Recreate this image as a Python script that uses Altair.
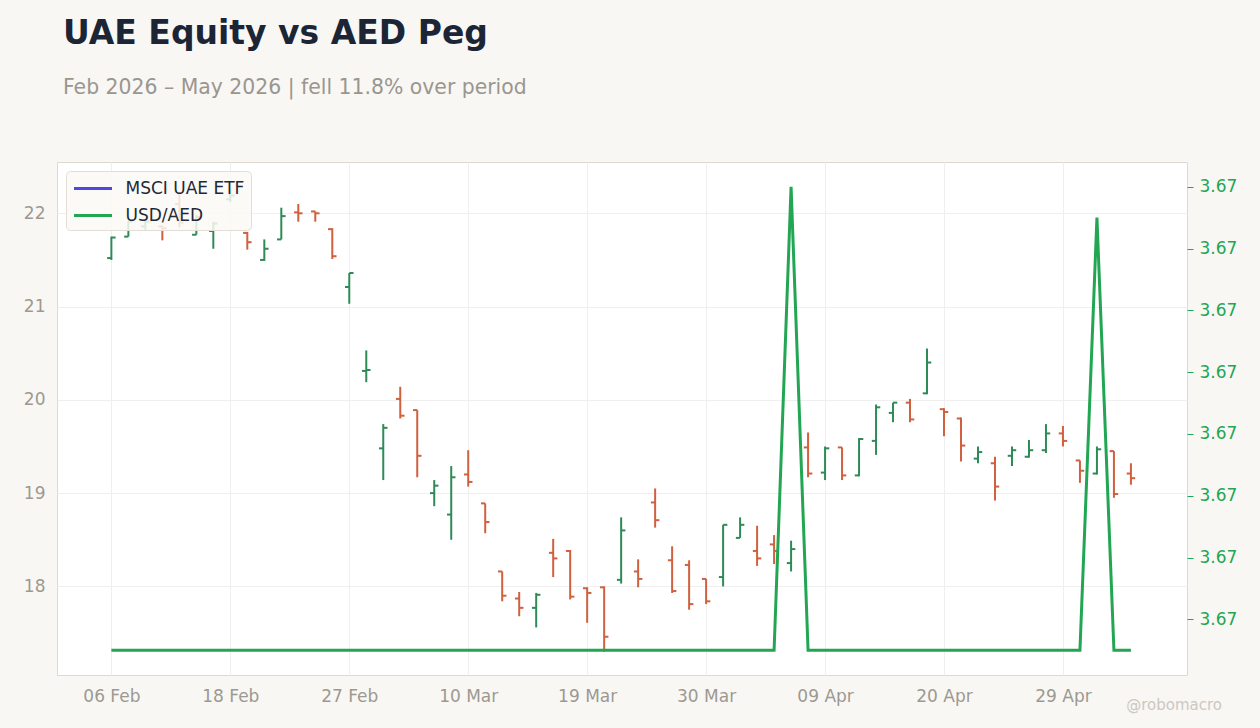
import json
import altair as alt
import pandas as pd

# ---- data ----
opens = [21.52, 21.75, 21.86, 21.86, 22.10, 21.77, 21.81, 22.15, 21.79, 21.50,
         21.72, 22.01, 22.02, 21.83, 21.21, 20.31, 19.48, 20.01, 19.89, 19.00,
         18.77, 19.20, 18.89, 18.16, 17.87, 17.77, 18.36, 18.38, 17.98, 17.99,
         18.07, 18.16, 18.90, 18.28, 18.23, 18.08, 18.10, 18.52, 18.38, 18.45,
         18.25, 19.49, 19.22, 19.49, 19.19, 19.56, 19.86, 19.97, 20.07, 19.90,
         19.80, 19.37, 19.32, 19.40, 19.39, 19.46, 19.64, 19.35, 19.21, 19.45, 19.21]
highs = [21.75, 21.92, 21.92, 21.87, 22.23, 21.98, 21.91, 22.25, 21.80, 21.72,
         22.06, 22.10, 22.02, 21.84, 21.36, 20.53, 19.74, 20.14, 19.89, 19.14,
         19.29, 19.46, 18.89, 18.16, 17.94, 17.93, 18.51, 18.39, 17.99, 18.00,
         18.74, 18.29, 19.05, 18.43, 18.28, 18.08, 18.66, 18.74, 18.65, 18.55,
         18.49, 19.65, 19.50, 19.49, 19.59, 19.95, 19.97, 20.01, 20.55, 19.91,
         19.81, 19.50, 19.39, 19.50, 19.57, 19.74, 19.72, 19.35, 19.50, 19.45, 19.32]
lows = [21.50, 21.75, 21.82, 21.71, 21.85, 21.77, 21.62, 22.12, 21.61, 21.49,
        21.72, 21.91, 21.91, 21.51, 21.03, 20.19, 19.14, 19.80, 19.17, 18.86,
        18.50, 19.07, 18.57, 17.84, 17.68, 17.56, 18.10, 17.86, 17.61, 17.30,
        18.03, 17.99, 18.63, 17.93, 17.75, 17.81, 18.00, 18.52, 18.22, 18.24,
        18.16, 19.17, 19.14, 19.14, 19.18, 19.41, 19.76, 19.76, 20.06, 19.61,
        19.34, 19.32, 18.92, 19.29, 19.38, 19.43, 19.50, 19.11, 19.20, 18.95, 19.09]
closes = [21.74, 21.91, 21.91, 21.84, 21.90, 21.96, 21.89, 22.19, 21.69, 21.62,
          21.97, 22.00, 22.00, 21.54, 21.36, 20.32, 19.70, 19.83, 19.40, 19.08,
          19.17, 19.12, 18.69, 17.90, 17.77, 17.91, 18.30, 17.89, 17.93, 17.46,
          18.60, 18.08, 18.71, 17.95, 17.81, 17.84, 18.66, 18.66, 18.30, 18.38,
          18.40, 19.21, 19.48, 19.19, 19.58, 19.92, 19.97, 19.79, 20.40, 19.87,
          19.51, 19.44, 19.07, 19.46, 19.46, 19.64, 19.56, 19.24, 19.47, 18.99, 19.16]
usd_aed = [3.67251, 3.67251, 3.67251, 3.67251, 3.67251, 3.67251, 3.67251, 3.67251, 3.67251, 3.67251,
           3.67251, 3.67251, 3.67251, 3.67251, 3.67251, 3.67251, 3.67251, 3.67251, 3.67251, 3.67251,
           3.67251, 3.67251, 3.67251, 3.67251, 3.67251, 3.67251, 3.67251, 3.67251, 3.67251, 3.67251,
           3.67251, 3.67251, 3.67251, 3.67251, 3.67251, 3.67251, 3.67251, 3.67251, 3.67251, 3.67251,
           3.67266, 3.67251, 3.67251, 3.67251, 3.67251, 3.67251, 3.67251, 3.67251, 3.67251, 3.67251,
           3.67251, 3.67251, 3.67251, 3.67251, 3.67251, 3.67251, 3.67251, 3.67251, 3.67265, 3.67251,
           3.67251]
x_tick_idx = [0, 7, 14, 21, 28, 35, 42, 49, 56]
x_tick_labels = ["06 Feb", "18 Feb", "27 Feb", "10 Mar", "19 Mar", "30 Mar", "09 Apr", "20 Apr", "29 Apr"]
left_ticks = [18, 19, 20, 21, 22]
right_ticks = [3.67252, 3.67254, 3.67256, 3.67258, 3.67260, 3.67262, 3.67264, 3.67266]
series_names = ["MSCI UAE ETF", "USD/AED"]

# ---- styling ----
FONT = "DejaVu Sans"
UP = "#2e8b57"
DOWN = "#d0603e"
PEG = "#22a653"
ETF_LEG = "#4f46e5"
GRAY = "#9d9991"
AX_FS = 17

n = len(opens)
df = pd.DataFrame({"i": list(range(n)), "open": opens, "high": highs,
                   "low": lows, "close": closes})
peg_df = pd.DataFrame({"i": list(range(n)), "v": usd_aed,
                       "series": ["USD/AED"] * n})

xscale = alt.Scale(domain=[-3.2, 63.3], nice=False, zero=False)
yscale = alt.Scale(domain=[17.05, 22.55], nice=False, zero=False)
label_expr = json.dumps(x_tick_labels) + "[round(datum.value / 7)]"
xaxis = alt.Axis(values=x_tick_idx, labelExpr=label_expr, title=None,
                 ticks=False, domain=False, labelPadding=13, grid=True,
                 gridColor="#efefef", labelColor=GRAY, labelFontSize=AX_FS,
                 labelFont=FONT)
yaxis = alt.Axis(values=left_ticks, format="d", title=None, ticks=False,
                 domain=False, labelPadding=12, grid=True, gridColor="#efefef",
                 labelColor=GRAY, labelFontSize=AX_FS, labelFont=FONT)

col = alt.condition("datum.close >= datum.open", alt.value(UP), alt.value(DOWN))
base = alt.Chart(df)

hl = base.mark_rule(strokeWidth=2).encode(
    x=alt.X("i:Q", scale=xscale, axis=xaxis),
    y=alt.Y("low:Q", scale=yscale, axis=yaxis),
    y2="high:Q",
    color=col,
)
op = base.transform_calculate(xo="datum.i - 0.25").mark_rule(strokeWidth=2).encode(
    x=alt.X("xo:Q", scale=xscale),
    x2="i:Q",
    y=alt.Y("open:Q", scale=yscale),
    color=col,
)
cl = base.transform_calculate(xc="datum.i + 0.25").mark_rule(strokeWidth=2).encode(
    x=alt.X("i:Q", scale=xscale),
    x2="xc:Q",
    y=alt.Y("close:Q", scale=yscale),
    color=col,
)
ohlc = alt.layer(hl, op, cl)

peg = alt.Chart(peg_df).mark_line(strokeWidth=3, strokeJoin="miter").encode(
    x=alt.X("i:Q", scale=xscale),
    y=alt.Y("v:Q",
            scale=alt.Scale(domain=[3.672502, 3.672668], nice=False, zero=False),
            axis=alt.Axis(orient="right", values=right_ticks, format=".2f",
                          title=None, grid=False, domain=False, ticks=True,
                          tickColor=PEG, tickSize=6, labelPadding=6,
                          labelColor=PEG, labelFontSize=AX_FS, labelFont=FONT)),
    color=alt.Color("series:N",
                    scale=alt.Scale(domain=series_names, range=[ETF_LEG, PEG]),
                    legend=alt.Legend(title=None, orient="top-left", offset=9,
                                      padding=6.5, fillColor="rgba(250,249,246,0.85)",
                                      strokeColor="#e2ded7", cornerRadius=4,
                                      symbolType="M-1,0H3", symbolStrokeWidth=3,
                                      symbolSize=361, labelFontSize=17,
                                      labelColor="#1f2937", labelFont=FONT,
                                      labelOffset=31, rowPadding=8)),
)

mark_df = pd.DataFrame({"t": ["@robomacro"]})
watermark = alt.Chart(mark_df).mark_text(align="right", baseline="middle",
                                         fontSize=15, color="#ccc8c1",
                                         font=FONT).encode(
    x=alt.value(1165), y=alt.value(543), text="t:N")

chart = alt.layer(ohlc, peg, watermark).resolve_scale(y="independent").properties(
    width=1130, height=513,
    padding={"left": 57, "top": 162, "right": 73, "bottom": 53},
    autosize=alt.AutoSizeParams(type="none"),
    background="#f8f7f4",
    title=alt.TitleParams(
        text="UAE Equity vs AED Peg",
        subtitle="Feb 2026 – May 2026 | fell 11.8% over period",
        anchor="start", frame="group", dx=6, offset=64, fontSize=33,
        fontWeight="bold", color="#1c2536", font=FONT, subtitleFont=FONT,
        subtitleFontSize=20.4, subtitleColor="#9a968f", subtitlePadding=27),
).configure_view(fill="white", stroke="#ddd8d0", strokeWidth=1)

chart.save("out.html", embed_options={"renderer": "svg", "actions": False})
